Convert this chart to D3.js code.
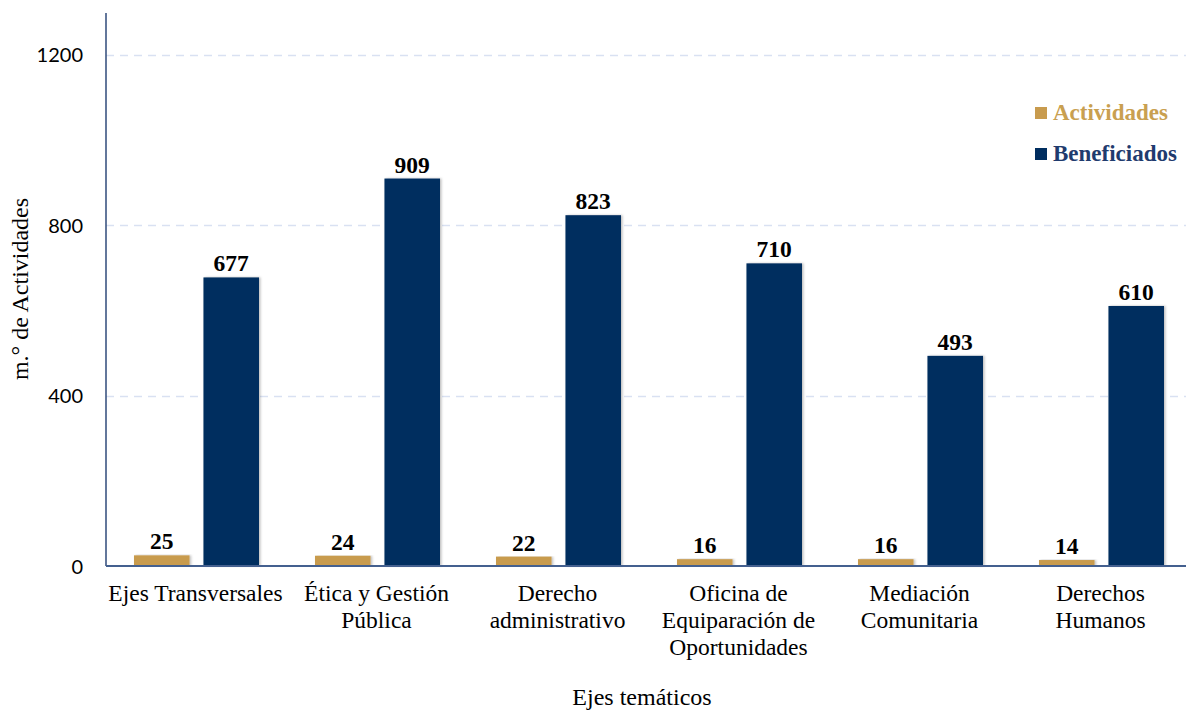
<!DOCTYPE html>
<html>
<head>
<meta charset="utf-8">
<script src="https://cdn.jsdelivr.net/npm/d3@7"></script>
<style>
  html, body { margin: 0; padding: 0; background: #fff; }
  svg { display: block; }
</style>
</head>
<body>
<svg id="chart" width="1186" height="711"></svg>
<script>
const categories = [
  ["Ejes Transversales"],
  ["Ética y Gestión", "Pública"],
  ["Derecho", "administrativo"],
  ["Oficina de", "Equiparación de", "Oportunidades"],
  ["Mediación", "Comunitaria"],
  ["Derechos", "Humanos"]
];
const seriesNames = ["Actividades", "Beneficiados"];
const actividades = [25, 24, 22, 16, 16, 14];
const beneficiados = [677, 909, 823, 710, 493, 610];
const yTicks = [0, 400, 800, 1200];
const colors = ["#C89B4E", "#002D5F"];
const legendColors = ["#C9A050", "#1F3B6E"];

const svg = d3.select("#chart");
const W = 1186, H = 711;
const x0 = 105, x1 = 1191, yBase = 566, yTop = 54.5;
const serif = "'Liberation Serif', 'Times New Roman', serif";

const defs = svg.append("defs");
const f = defs.append("filter").attr("id", "shadow").attr("x", "-20%").attr("y", "-5%").attr("width", "140%").attr("height", "110%");
f.append("feDropShadow").attr("dx", 1.5).attr("dy", 0).attr("stdDeviation", 1.2).attr("flood-color", "#000").attr("flood-opacity", 0.25);

const idx = categories.map((d, i) => i);
const x = d3.scaleBand().domain(idx).range([x0, x1]).paddingInner(0).paddingOuter(0);
const xs = d3.scaleBand().domain([0, 1]).range([29, 154]).paddingInner(0.2);
const y = d3.scaleLinear().domain([0, 1200]).range([yBase, yTop]);

// gridlines
svg.append("g").selectAll("line").data(yTicks.filter(t => t > 0)).join("line")
  .attr("x1", 106).attr("x2", W)
  .attr("y1", d => Math.round(y(d)) + 0.5).attr("y2", d => Math.round(y(d)) + 0.5)
  .attr("stroke", "#D9E1F2").attr("stroke-width", 1.3).attr("stroke-dasharray", "8,6");

// y-axis via d3.axisLeft (text only)
const yAxis = svg.append("g").attr("transform", "translate(106,0)")
  .call(d3.axisLeft(y).tickValues(yTicks).tickSize(0).tickPadding(23).tickFormat(d3.format("d")));
yAxis.select(".domain").remove();
yAxis.selectAll("text").attr("font-family", "Lato, 'Open Sans', sans-serif").attr("font-size", "20px").attr("fill", "#000").attr("dy", "0.36em");

// bars
const data = [];
idx.forEach(i => {
  data.push({ c: i, s: 0, v: actividades[i] });
  data.push({ c: i, s: 1, v: beneficiados[i] });
});
svg.append("g").selectAll("rect").data(data).join("rect")
  .attr("x", d => x(d.c) + xs(d.s))
  .attr("width", xs.bandwidth())
  .attr("y", d => y(d.v))
  .attr("height", d => yBase - y(d.v))
  .attr("fill", d => colors[d.s])
  .attr("filter", "url(#shadow)");

// value labels
svg.append("g").selectAll("text").data(data).join("text")
  .attr("x", d => x(d.c) + xs(d.s) + xs.bandwidth() / 2)
  .attr("y", d => y(d.v) - 6)
  .attr("text-anchor", "middle")
  .attr("font-family", serif)
  .attr("font-weight", "bold").attr("font-size", "23.5px").attr("fill", "#000")
  .text(d => d.v);

// axis lines
svg.append("line").attr("x1", 106).attr("x2", 106).attr("y1", 13).attr("y2", yBase)
  .attr("stroke", "#2F4A7A").attr("stroke-width", 1.5);
svg.append("line").attr("x1", 106).attr("x2", W).attr("y1", yBase).attr("y2", yBase)
  .attr("stroke", "#44608F").attr("stroke-width", 1.8);

// category labels
const cat = svg.append("g").selectAll("text").data(idx).join("text")
  .attr("text-anchor", "middle")
  .attr("font-family", serif)
  .attr("font-size", "23.5px").attr("fill", "#000")
  .attr("transform", d => `translate(${x(d) + x.bandwidth() / 2},601)`);
cat.selectAll("tspan").data(d => categories[d]).join("tspan")
  .attr("x", 0).attr("y", (d, j) => j * 27).text(d => d);

// axis titles
svg.append("text").attr("x", 642).attr("y", 705).attr("text-anchor", "middle")
  .attr("font-family", serif).attr("font-size", "24px")
  .text("Ejes temáticos");
svg.append("text").attr("transform", "translate(28,289) rotate(-90)").attr("text-anchor", "middle")
  .attr("font-family", serif).attr("font-size", "24px")
  .text("m.° de Actividades");

// legend
const lg = svg.append("g").selectAll("g").data(seriesNames).join("g")
  .attr("transform", (d, i) => `translate(1035,${107 + i * 41})`);
lg.append("rect").attr("width", 12).attr("height", 12).attr("fill", (d, i) => colors[i]);
lg.append("text").attr("x", 18).attr("y", 13)
  .attr("font-family", serif)
  .attr("font-weight", "bold").attr("font-size", "23px")
  .attr("fill", (d, i) => legendColors[i]).text(d => d);
</script>
</body>
</html>
